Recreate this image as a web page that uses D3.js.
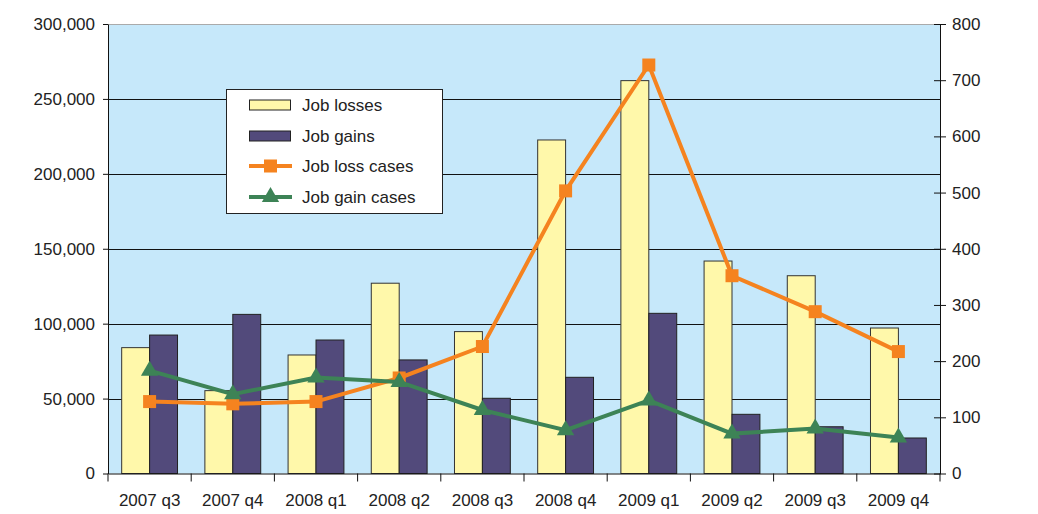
<!DOCTYPE html>
<html><head><meta charset="utf-8">
<script src="https://cdn.jsdelivr.net/npm/d3@7"></script>
<style>body{margin:0;background:#fff;} svg{display:block;font-family:"Liberation Sans",Arial,sans-serif;}</style>
</head><body>
<svg id="c" width="1038" height="514"></svg>
<script>
const categories = ["2007 q3","2007 q4","2008 q1","2008 q2","2008 q3","2008 q4","2009 q1","2009 q2","2009 q3","2009 q4"];
const jobLosses = [84000,55300,79100,127000,94700,222600,262200,141800,132000,97100];
const jobGains = [92400,106200,89100,75800,50200,64200,106900,39500,31200,23700];
const jobLossCases = [128,124,128,170,226,503,727,352,288,217];
const jobGainCases = [183,141,171,163,113,77,130,71,80,64];
const leftTicks = [0,50000,100000,150000,200000,250000,300000];
const rightTicks = [0,100,200,300,400,500,600,700,800];
const seriesNames = ["Job losses","Job gains","Job loss cases","Job gain cases"];

const svg = d3.select("#c");
const L=108, R=940, T=24, B=473.5;
const x = d3.scaleBand().domain(categories).range([L,R]);
const x1 = d3.scaleBand().domain(["losses","gains"]).range([0,x.bandwidth()]).paddingInner(0).paddingOuter(0.49);
const yL = d3.scaleLinear().domain([0,300000]).range([B,T]);
const yR = d3.scaleLinear().domain([0,800]).range([B,T]);
const fmt = d3.format(",");

svg.append("rect").attr("x",L).attr("y",T).attr("width",R-L).attr("height",B-T).attr("fill","#C6E8FA");
// gridlines
svg.append("g").selectAll("line").data(leftTicks.filter(d=>d>0)).join("line")
  .attr("x1",L).attr("x2",R).attr("y1",d=>Math.round(yL(d))+0.5).attr("y2",d=>Math.round(yL(d))+0.5)
  .attr("stroke",d=>d===300000?"#aaa":"#111").attr("stroke-width",1);

// bars
const g = svg.append("g");
g.selectAll("rect.l").data(jobLosses).join("rect").attr("class","l")
  .attr("x",(d,i)=>x(categories[i])+x1("losses")).attr("width",x1.bandwidth())
  .attr("y",d=>yL(d)).attr("height",d=>B-yL(d))
  .attr("fill","#FFF8AA").attr("stroke","#333").attr("stroke-width",1);
g.selectAll("rect.g").data(jobGains).join("rect").attr("class","g")
  .attr("x",(d,i)=>x(categories[i])+x1("gains")).attr("width",x1.bandwidth())
  .attr("y",d=>yL(d)).attr("height",d=>B-yL(d))
  .attr("fill","#524A7B").attr("stroke","#222").attr("stroke-width",1);

// axes
const axL = svg.append("g").attr("transform",`translate(${L},0)`).call(d3.axisLeft(yL).tickValues(leftTicks).tickFormat(fmt).tickSize(5).tickSizeOuter(0));
const axR = svg.append("g").attr("transform",`translate(${R},0)`).call(d3.axisRight(yR).tickValues(rightTicks).tickSize(6).tickSizeOuter(0));
axR.selectAll(".tick line").attr("x1",-6);
const axB = svg.append("g").attr("transform",`translate(0,${B})`).call(d3.axisBottom(x).tickSize(0).tickSizeOuter(0));
// boundary ticks on x
svg.append("g").selectAll("line").data(d3.range(categories.length+1)).join("line")
  .attr("x1",i=>L+i*x.step()).attr("x2",i=>L+i*x.step()).attr("y1",B).attr("y2",B+8).attr("stroke","#111");
[axL,axR,axB].forEach(a=>{
  a.selectAll("path.domain").attr("stroke","#111");
  a.selectAll("line").attr("stroke","#111");
  a.selectAll("text").attr("font-size","17px").attr("fill","#222").attr("font-family","Liberation Sans, Arial, sans-serif");
});
axL.selectAll("text").attr("x",-13);
axR.selectAll("text").attr("x",12);
axB.selectAll("text").attr("dy","0").attr("y",32);

// lines
const cx = (i)=>x(categories[i])+x.bandwidth()/2;
const line = d3.line().x((d,i)=>cx(i)).y(d=>yR(d));
const orange="#F5831F", green="#3D8356";
svg.append("path").datum(jobLossCases).attr("d",line).attr("fill","none").attr("stroke",orange).attr("stroke-width",4);
svg.append("g").selectAll("rect").data(jobLossCases).join("rect")
  .attr("x",(d,i)=>cx(i)-6.5).attr("y",d=>yR(d)-6.5).attr("width",13).attr("height",13).attr("fill",orange);
svg.append("path").datum(jobGainCases).attr("d",line).attr("fill","none").attr("stroke",green).attr("stroke-width",4);
const tri = d3.symbol().type(d3.symbolTriangle).size(130);
svg.append("g").selectAll("path").data(jobGainCases).join("path")
  .attr("d",tri).attr("transform",(d,i)=>`translate(${cx(i)},${yR(d)})`).attr("fill",green);

// legend
const lg = svg.append("g");
lg.append("rect").attr("x",226.5).attr("y",89.5).attr("width",216).attr("height",124).attr("fill","#fff").attr("stroke","#222");
const rowsY=[105,136,166,197];
seriesNames.forEach((n,i)=>{
  const yy=rowsY[i];
  if(i===0||i===1){
    lg.append("rect").attr("x",249.5).attr("y",yy-5).attr("width",41).attr("height",10)
      .attr("fill",i===0?"#FFF8AA":"#524A7B").attr("stroke","#222");
  } else {
    const c=i===2?orange:green;
    lg.append("line").attr("x1",249).attr("x2",292).attr("y1",yy).attr("y2",yy).attr("stroke",c).attr("stroke-width",4);
    if(i===2) lg.append("rect").attr("x",264).attr("y",yy-6.5).attr("width",13).attr("height",13).attr("fill",c);
    else lg.append("path").attr("d",tri).attr("transform",`translate(270.5,${yy})`).attr("fill",c);
  }
  lg.append("text").attr("x",302).attr("y",yy+6).attr("font-size","17px").attr("fill","#222").text(n);
});
</script>
</body></html>
